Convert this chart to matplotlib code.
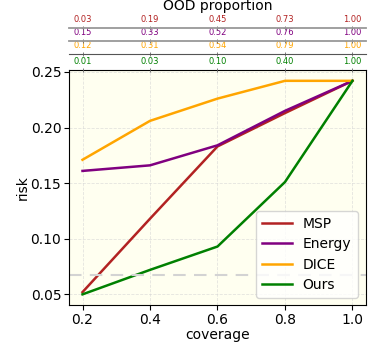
import numpy as np
import matplotlib
matplotlib.use("Agg")
import matplotlib.pyplot as plt

# -------- data --------
coverage = [0.2, 0.4, 0.6, 0.8, 1.0]
risk_msp = [0.052, 0.118, 0.183, 0.213, 0.242]
risk_energy = [0.161, 0.166, 0.184, 0.215, 0.242]
risk_dice = [0.171, 0.206, 0.226, 0.242, 0.242]
risk_ours = [0.050, 0.072, 0.093, 0.151, 0.242]
target_risk = 0.0675

ood_msp = ['0.03', '0.19', '0.45', '0.73', '1.00']
ood_energy = ['0.15', '0.33', '0.52', '0.76', '1.00']
ood_dice = ['0.12', '0.31', '0.54', '0.79', '1.00']
ood_ours = ['0.01', '0.03', '0.10', '0.40', '1.00']

colors = {'MSP': '#b22222', 'Energy': '#800080', 'DICE': '#ffa500', 'Ours': '#008000'}

# -------- plot --------
fig = plt.figure(figsize=(3.74, 3.49), dpi=100)
ax = fig.add_axes([0.1845, 0.126, 0.794, 0.673])
ax.set_facecolor('#fffff0')

ax.plot(coverage, risk_msp, color=colors['MSP'], lw=1.8, label='MSP')
ax.plot(coverage, risk_energy, color=colors['Energy'], lw=1.8, label='Energy')
ax.plot(coverage, risk_dice, color=colors['DICE'], lw=1.8, label='DICE')
ax.plot(coverage, risk_ours, color=colors['Ours'], lw=1.8, label='Ours')
ax.axhline(target_risk, color='lightgray', lw=1.5, ls=(0, (6, 4)))

ax.grid(True, color='lightgray', ls='--', lw=0.6, alpha=0.6)
ax.set_xticks(coverage)
ax.set_yticks([0.05, 0.10, 0.15, 0.20, 0.25])
ax.tick_params(labelsize=10, pad=2)
ax.set_xlabel('coverage', fontsize=10, labelpad=1)
ax.set_ylabel('risk', fontsize=10, labelpad=0.5)
ax.legend(loc='lower right', fontsize=10, handlelength=2.1, borderpad=0.45,
          labelspacing=0.45, bbox_to_anchor=(0.995, 0.0))

# OOD proportion rows (stacked top axes)
rows = [(ood_ours, colors['Ours'], 0, 'black', 0.8),
        (ood_dice, colors['DICE'], 11.3, '#555555', 0.8),
        (ood_energy, colors['Energy'], 20.9, '#999999', 1.3),
        (ood_msp, colors['MSP'], 30.0, '#999999', 1.3)]
for labels, c, off, sc, slw in rows:
    t = ax.twiny()
    t.set_xlim(ax.get_xlim())
    t.set_xticks(coverage)
    t.set_xticklabels(labels)
    t.tick_params(axis='x', direction='inout', length=3, width=0.6, pad=1.5,
                  color='#666666', labelcolor=c, labelsize=6)
    t.spines['top'].set_position(('outward', off))
    t.spines['top'].set_color(sc)
    t.spines['top'].set_linewidth(slw)
    for s in ['left', 'right', 'bottom']:
        t.spines[s].set_visible(False)
    if off == 0:
        t.spines['top'].set_visible(False)

pos = ax.get_position()
fig.text((pos.x0 + pos.x1) / 2, 1 - 6 / 349, 'OOD proportion', fontsize=10,
         ha='center', va='center')

fig.savefig('out.png', dpi=100)
